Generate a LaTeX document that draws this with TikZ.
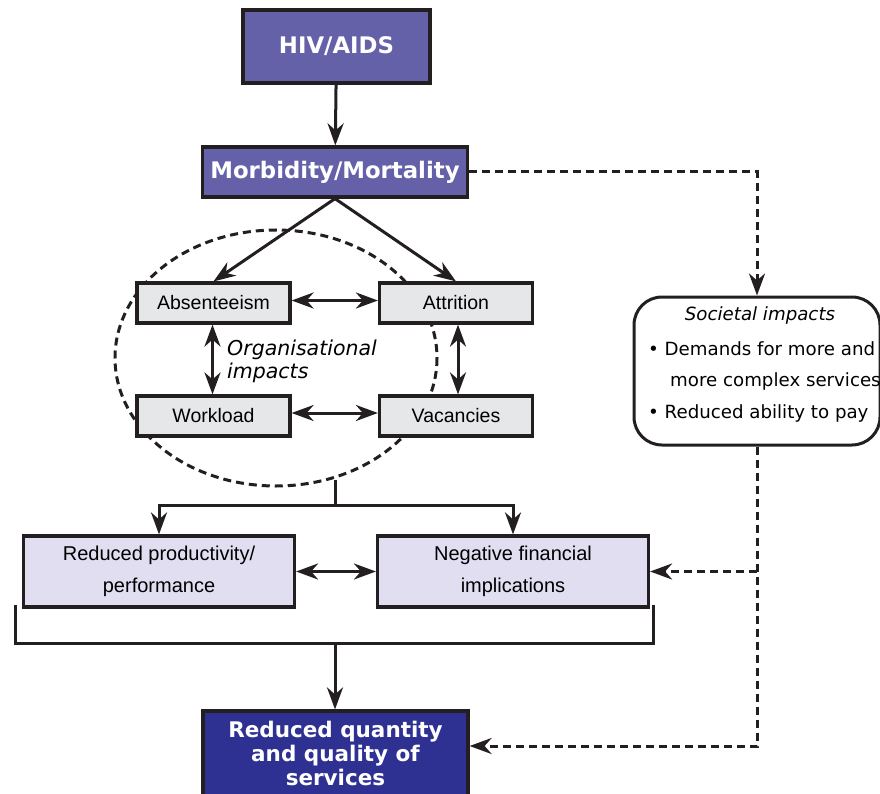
\documentclass[tikz,border=0pt]{standalone}
\usepackage{fontspec}
\setmainfont{Liberation Sans}
\newfontfamily\dvsans{DejaVu Sans}
\usetikzlibrary{arrows.meta}

\definecolor{ink}{HTML}{231F20}
\definecolor{purp}{HTML}{6561A9}
\definecolor{navy}{HTML}{2E3192}
\definecolor{boxgray}{HTML}{E6E7E8}
\definecolor{lav}{HTML}{E0DEF0}

\tikzset{
  box/.style={draw=ink, line width=3.2pt, inner sep=0pt},
  darkbox/.style={box, fill=purp, text=white,
    font=\dvsans\bfseries\fontsize{22.8}{27}\selectfont},
  graybox/.style={box, fill=boxgray, minimum width=153pt, minimum height=40pt,
    font=\fontsize{19.5}{22}\selectfont},
  lavbox/.style={box, fill=lav, minimum width=271pt, minimum height=71pt,
    align=center, font=\fontsize{20}{32}\selectfont},
  socbox/.style={draw=ink, line width=3pt, fill=white, rounded corners=28pt},
  soctext/.style={inner sep=0pt, font=\dvsans\fontsize{18.2}{22}\selectfont},
  solidline/.style={draw=ink, line width=3pt},
  dashline/.style={draw=ink, line width=3pt, dash pattern=on 8pt off 5pt},
  tipA/.tip={Stealth[length=22pt, width=16pt, inset=7pt]},
  flow/.style={solidline, -tipA},
  both/.style={solidline, tipA-tipA},
  dflow/.style={dashline, -tipA},
}

\begin{document}
\begin{tikzpicture}[x=1pt, y=-1pt]
  \useasboundingbox (0,0) rectangle (880,794);
  \clip (0,0) rectangle (880,794);

  % top of the chain
  \node[darkbox, minimum width=187pt, minimum height=73pt] (hiv) at (336.5,46.5) {HIV/AIDS};
  \node[darkbox, minimum width=265pt, minimum height=50pt] (morb) at (335,172) {Morbidity/Mortality};
  \draw[flow] (hiv) -- (morb);

  % organisational impacts, inside a dashed ellipse
  \draw[dashline] (276,358) ellipse [x radius=161, y radius=128];
  \node[graybox] (abs) at (213.5,303) {Absenteeism};
  \node[graybox] (att) at (456,303) {Attrition};
  \node[graybox] (wl)  at (213.5,416) {Workload};
  \node[graybox] (vac) at (456,416) {Vacancies};
  \node[anchor=north west, inner sep=0pt, align=left,
        font=\dvsans\itshape\fontsize{20.5}{23}\selectfont] (org) at (227,339.5)
        {Organisational\\impacts};

  \draw[flow] (morb.south) -- (abs.north);
  \draw[flow] (morb.south) -- (att.north);
  \draw[both] ([yshift=2.5pt]abs.east) -- ([yshift=2.5pt]att.west);
  \draw[both] ([yshift=3pt]wl.east) -- ([yshift=3pt]vac.west);
  \draw[both] ([xshift=-1pt]abs.south) -- ([xshift=-1pt]wl.north);
  \draw[both] ([xshift=2pt]att.south) -- ([xshift=2pt]vac.north);

  % societal impacts
  \node[socbox, minimum width=246pt, minimum height=148pt] (soc) at (757,371) {};
  \node[soctext, anchor=base] (s0) at (760,320) {\itshape Societal impacts};
  \node[soctext, anchor=base west] (s1) at (648,355) {• Demands for more and};
  \node[soctext, anchor=base west] (s2) at (670,386) {more complex services};
  \node[soctext, anchor=base west] (s3) at (648,418) {• Reduced ability to pay};

  % consequences
  \node[lavbox] (rp) at (159,571.5) {Reduced productivity/\\performance};
  \node[lavbox] (nf) at (513,571.5) {Negative financial\\implications};
  \draw[both] (rp.east) -- (nf.west);

  \coordinate (orgbot) at (335,480);
  \coordinate (split) at (335,505);
  \draw[solidline] (orgbot) -- (split);
  \draw[flow] (split) -| (rp.north);
  \draw[flow] (split) -| (nf.north);

  % bracket joining both consequences
  \coordinate (brL) at (15,605);
  \coordinate (brR) at (653,605);
  \coordinate (brmid) at (335,643);
  \draw[solidline] (brL) |- (brmid) -| (brR);

  \node[box, fill=navy, minimum width=265pt, minimum height=100pt] (rq) at (335.5,761) {};
  \node[anchor=north, inner sep=0pt, align=center, text=white,
        font=\dvsans\bfseries\fontsize{21.5}{24}\selectfont] (rqtext) at (335.5,721)
        {Reduced quantity\\and quality of\\services};
  \draw[flow] (brmid) -- (brmid |- rq.north);

  % dashed societal paths
  \draw[dflow] (morb.east) -| (soc.north);
  \coordinate (j1) at (757,571.5);
  \coordinate (j2) at (757,746);
  \draw[dflow] (soc.south) -- (j2) -- (rq.east |- j2);
  \draw[dflow] (j1) -- (nf.east);
\end{tikzpicture}
\end{document}
